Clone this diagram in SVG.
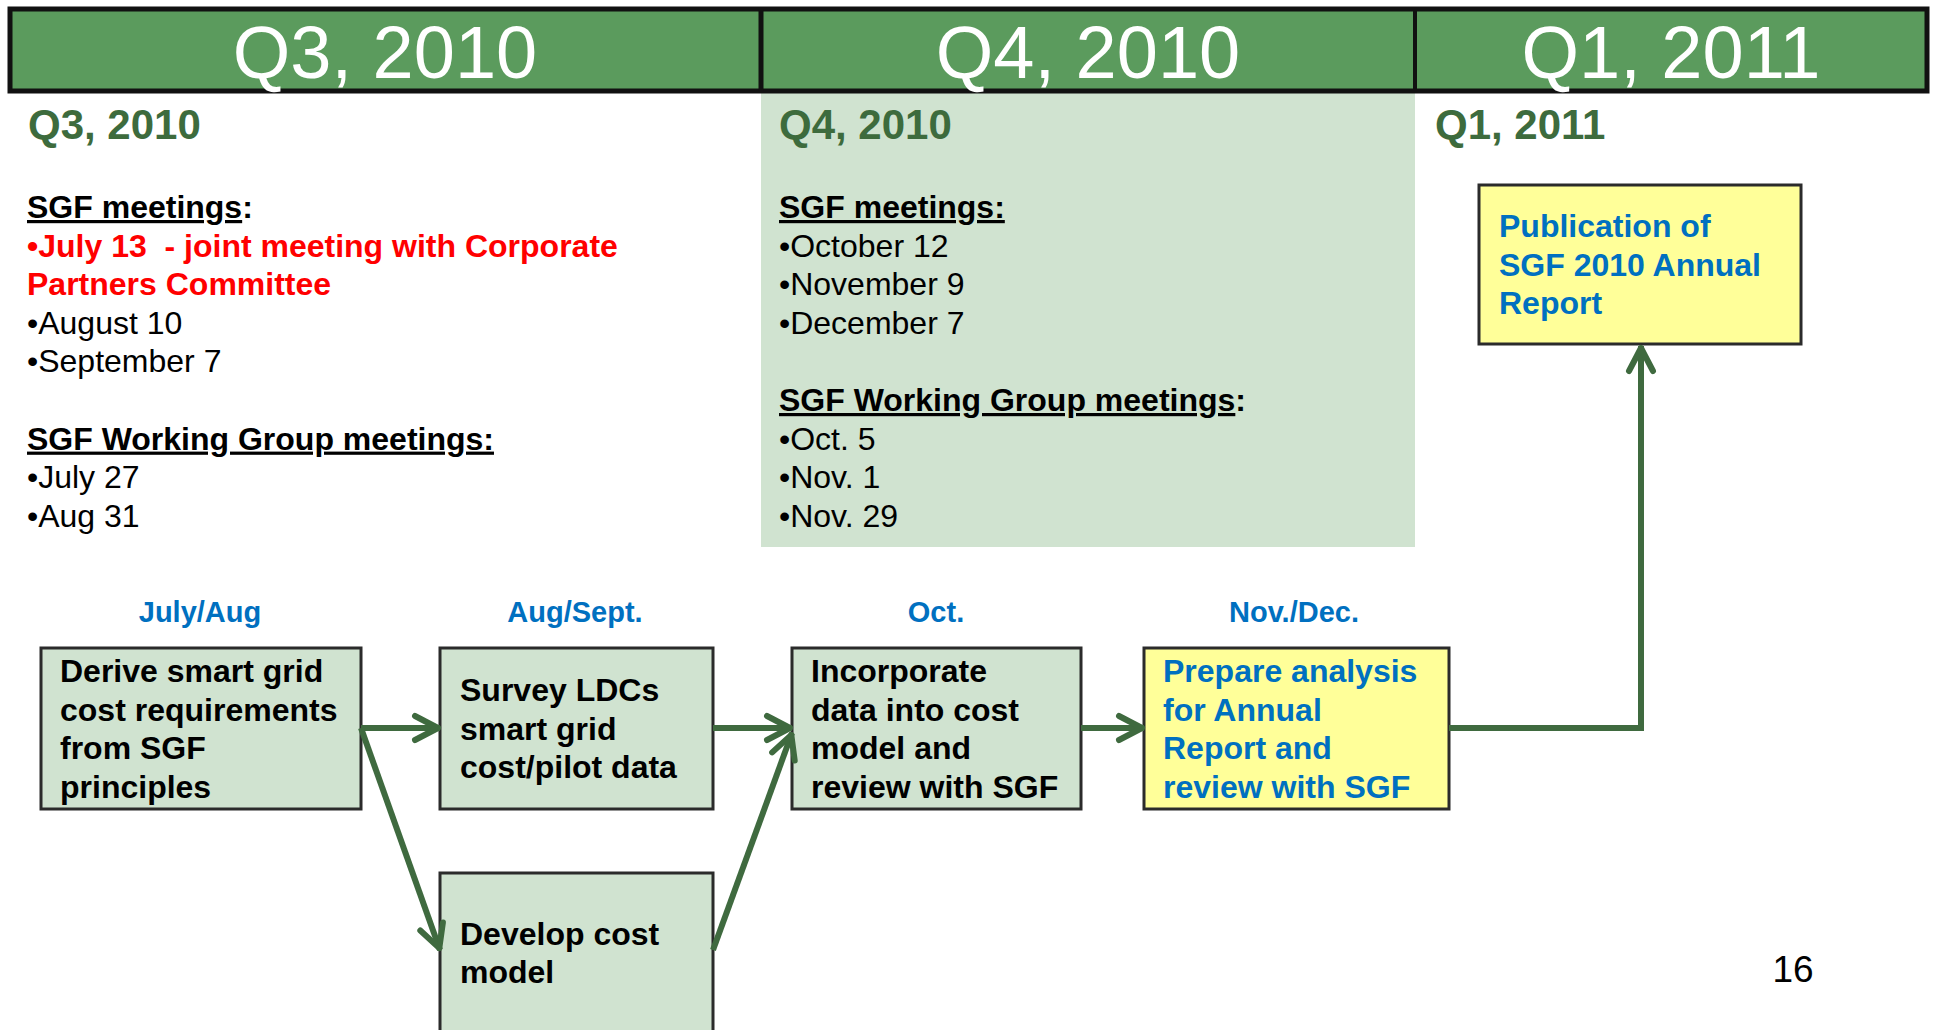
<svg xmlns="http://www.w3.org/2000/svg" width="1933" height="1030" viewBox="0 0 1933 1030">
<style>
text{font-family:"Liberation Sans",Arial,sans-serif;}
.hdr{font-size:74px;fill:#ffffff;text-anchor:middle;}
.sub{font-size:42px;font-weight:bold;fill:#3D6B3D;}
.body{font-size:32px;fill:#000000;white-space:pre;}
.b{font-weight:bold;}
.u{text-decoration:underline;}
.red{fill:#FF0000;font-weight:bold;}
.lbl{font-size:29px;font-weight:bold;fill:#0070C0;text-anchor:middle;}
.box{fill:#D0E3D0;stroke:#2B2B2B;stroke-width:3;}
.ybox{fill:#FFFF99;stroke:#2B2B2B;stroke-width:3;}
.bt{font-size:32px;font-weight:bold;fill:#000000;}
.blue{fill:#0070C0;}
.conn{fill:none;stroke:#3F6A3F;stroke-width:6;}
</style>
<defs>
<marker id="arr" markerUnits="userSpaceOnUse" viewBox="-30 -20 40 40" markerWidth="40" markerHeight="40" refX="2" refY="0" orient="auto" overflow="visible">
<path d="M-23,-12 L0,0 L-23,12" fill="none" stroke="#3F6A3F" stroke-width="6" stroke-linecap="round" stroke-linejoin="round"/>
</marker>
</defs>
<rect x="0" y="0" width="1933" height="1030" fill="#ffffff"/>
<rect x="761" y="92" width="654" height="455" fill="#D0E3D0"/>
<g id="header">
<rect x="10" y="9" width="1917" height="82" fill="#5B9B5D" stroke="#111111" stroke-width="5"/>
<line x1="761" y1="9" x2="761" y2="91" stroke="#111111" stroke-width="5"/>
<line x1="1415" y1="9" x2="1415" y2="91" stroke="#111111" stroke-width="4"/>
<text class="hdr" x="385" y="78">Q3, 2010</text>
<text class="hdr" x="1088" y="78">Q4, 2010</text>
<text class="hdr" x="1671" y="78">Q1, 2011</text>
</g>
<g id="q3-text">
<text class="sub" x="28" y="139">Q3, 2010</text>
<text class="body b" x="27" y="218"><tspan class="u">SGF meetings</tspan>:</text>
<text class="body red" x="27" y="256.6">•July 13  - joint meeting with Corporate</text>
<text class="body red" x="27" y="295.2">Partners Committee</text>
<text class="body" x="27" y="333.8">•August 10</text>
<text class="body" x="27" y="372.4">•September 7</text>
<text class="body b u" x="27" y="449.6">SGF Working Group meetings:</text>
<text class="body" x="27" y="488.2">•July 27</text>
<text class="body" x="27" y="526.8">•Aug 31</text>
</g>
<g id="q4-text">
<text class="sub" x="779" y="139">Q4, 2010</text>
<text class="body b u" x="779" y="218">SGF meetings:</text>
<text class="body" x="779" y="256.6">•October 12</text>
<text class="body" x="779" y="295.2">•November 9</text>
<text class="body" x="779" y="333.8">•December 7</text>
<text class="body b" x="779" y="411"><tspan class="u">SGF Working Group meetings</tspan>:</text>
<text class="body" x="779" y="449.6">•Oct. 5</text>
<text class="body" x="779" y="488.2">•Nov. 1</text>
<text class="body" x="779" y="526.8">•Nov. 29</text>
</g>
<g id="q1-text">
<text class="sub" x="1435" y="139">Q1, 2011</text>
</g>
<g id="labels">
<text class="lbl" x="200" y="622">July/Aug</text>
<text class="lbl" x="575" y="622">Aug/Sept.</text>
<text class="lbl" x="936" y="622">Oct.</text>
<text class="lbl" x="1294" y="622">Nov./Dec.</text>
</g>
<g id="node-derive">
<rect class="box" x="41" y="648" width="320" height="161"/>
<text class="bt" x="60" y="682">Derive smart grid</text>
<text class="bt" x="60" y="720.5">cost requirements</text>
<text class="bt" x="60" y="759">from SGF</text>
<text class="bt" x="60" y="797.5">principles</text>
</g>
<g id="node-survey">
<rect class="box" x="440" y="648" width="273" height="161"/>
<text class="bt" x="460" y="701">Survey LDCs</text>
<text class="bt" x="460" y="739.5">smart grid</text>
<text class="bt" x="460" y="778">cost/pilot data</text>
</g>
<g id="node-develop">
<rect class="box" x="440" y="873" width="273" height="170"/>
<text class="bt" x="460" y="945">Develop cost</text>
<text class="bt" x="460" y="983">model</text>
</g>
<g id="node-incorporate">
<rect class="box" x="792" y="648" width="289" height="161"/>
<text class="bt" x="811" y="682">Incorporate</text>
<text class="bt" x="811" y="720.5">data into cost</text>
<text class="bt" x="811" y="759">model and</text>
<text class="bt" x="811" y="797.5">review with SGF</text>
</g>
<g id="node-prepare">
<rect class="ybox" x="1144" y="648" width="305" height="161"/>
<text class="bt blue" x="1163" y="682">Prepare analysis</text>
<text class="bt blue" x="1163" y="720.5">for Annual</text>
<text class="bt blue" x="1163" y="759">Report and</text>
<text class="bt blue" x="1163" y="797.5">review with SGF</text>
</g>
<g id="node-publication">
<rect class="ybox" x="1479" y="185" width="322" height="159"/>
<text class="bt blue" x="1499" y="237">Publication of</text>
<text class="bt blue" x="1499" y="275.5">SGF 2010 Annual</text>
<text class="bt blue" x="1499" y="314">Report</text>
</g>
<g id="connectors">
<path class="conn" d="M361,728 L440,728" marker-end="url(#arr)"/>
<path class="conn" d="M361,728 L440,950" marker-end="url(#arr)"/>
<path class="conn" d="M713,728 L792,728" marker-end="url(#arr)"/>
<path class="conn" d="M713,950 L792,733" marker-end="url(#arr)"/>
<path class="conn" d="M1081,728 L1144,728" marker-end="url(#arr)"/>
<path class="conn" d="M1449,728 L1641,728 L1641,346" marker-end="url(#arr)"/>
</g>
<text x="1793" y="982" font-size="37" text-anchor="middle" fill="#000000">16</text>
</svg>
